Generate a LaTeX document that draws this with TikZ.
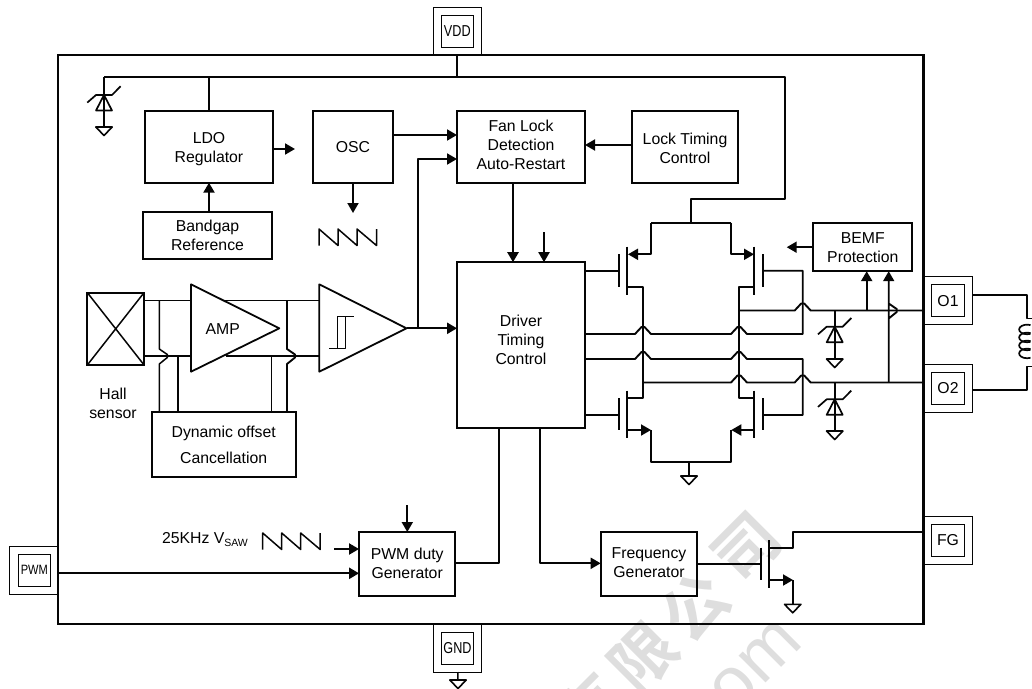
\documentclass[tikz,border=0pt]{standalone}
\usepackage{fontspec}
\setmainfont{Liberation Sans}
\newfontfamily\cjk{Noto Sans CJK SC}[BoldFont={* Bold}]
\usetikzlibrary{arrows.meta}
\definecolor{wmk}{RGB}{222,222,222}
\definecolor{ink}{RGB}{5,5,5}
\newcommand\hopup[2]{-- (#1-8,#2) -- (#1-1.5,#2-7) -- (#1+1.5,#2-7) -- (#1+8,#2)}
\newcommand\hopright[2]{-- (#1,#2-7) -- (#1+8,#2-1.5) -- (#1+8,#2+1.5) -- (#1,#2+8)}
\tikzset{
  blk/.style={draw=ink,line width=2.2pt,inner sep=0pt,outer sep=0pt,align=center,font=\fontsize{15.8}{19}\selectfont},
  padout/.style={draw=ink,line width=.7pt,inner sep=0pt,outer sep=0pt,minimum width=48pt,minimum height=48pt},
  padin/.style={draw=ink,line width=.9pt,inner sep=0pt,outer sep=0pt,minimum width=32.5pt,minimum height=32pt,font=\fontsize{15.8}{16}\selectfont},
  lbl/.style={inner sep=0pt,outer sep=0pt,align=center,font=\fontsize{15.8}{19}\selectfont},
  wire/.style={draw=ink,line width=1.9pt,line join=round},
  fine/.style={draw=ink,line width=1.5pt,line join=round},
  heavy/.style={draw=ink,line width=2.3pt,line join=round},
  tip/.style={-{Triangle[length=10pt,width=11pt]}},
  wm/.style={text=wmk,inner sep=0pt,outer sep=0pt,rotate=45,font=\cjk\bfseries\fontsize{64}{64}\selectfont},
  pics/gnd/.style={code={\draw[fine,line width=1.6pt] (-8.2,0) -- (8.2,0) -- (0,8.5) -- cycle;}},
  pics/zener/.style={code={
    \draw[fine,line width=1.7pt] (-16.7,7.6) -- (-8,0) -- (8,0) -- (16.6,-8.7);
    \draw[fine,line width=1.7pt] (0,0) -- (-8,15.5) -- (8,15.5) -- cycle;}},
  pics/saw/.style={code={
    \draw[fine,line width=1.5pt] (0,16.5) -- (0,0) -- (19,16.5) -- (19,0) -- (38,16.5) -- (38,0) -- (57.5,16.5) -- (57.5,0);}},
}
\begin{document}
\begin{tikzpicture}[x=1pt,y=-1pt]
\useasboundingbox (0,0) rectangle (1032,688);
% watermark
\node[wm] (wm4) at (747,548) {司};
\node[wm] (wm3) at (695,607) {公};
\node[wm] (wm2) at (644,658) {限};
\node[wm] (wm1) at (590,708) {有};
\node[wm,font=\fontsize{72}{72}\selectfont] (wm5) at (743,679) {com};

% main frame
\node[draw=ink,line width=2.2pt,inner sep=0pt,outer sep=0pt,minimum width=865.5pt,minimum height=568.5pt] (chip) at (490.75,339.5) {};

% pads
\node[padout] (vddo) at (457,31) {}; \node[padin] (vdd) at (457.3,31) {\scalebox{.8}[1]{VDD}};
\node[padout] (gndo) at (457.7,648) {}; \node[padin] (gnd) at (457.5,648) {\scalebox{.8}[1]{GND}};
\node[padout] (pwmo) at (33.7,570) {}; \node[padin,font=\fontsize{13.5}{14}\selectfont] (pwm) at (34.3,570.3) {\scalebox{.82}[1]{PWM}};
\node[padout] (o1o) at (948,300.5) {}; \node[padin] (o1) at (948,300.7) {O1};
\node[padout] (o2o) at (948,388.3) {}; \node[padin] (o2) at (948,388.3) {O2};
\node[padout] (fgo) at (948,540) {}; \node[padin] (fg) at (948,540.2) {FG};

% blocks
\node[blk,minimum width=127.5pt,minimum height=72pt,label={[lbl,yshift=-2.5pt]center:LDO\\Regulator}] (ldo) at (209,146.7) {};
\node[blk,minimum width=80pt,minimum height=72pt] (osc) at (353,146.7) {OSC};
\node[blk,minimum width=128pt,minimum height=72pt,label={[lbl,yshift=2pt]center:Fan Lock\\Detection\\Auto-Restart}] (fan) at (521,146.7) {};
\node[blk,minimum width=106pt,minimum height=72pt,label={[lbl,yshift=-2pt]center:Lock Timing\\Control}] (lock) at (685,146.7) {};
\node[blk,minimum width=129pt,minimum height=47pt] (band) at (207.5,235.7) {Bandgap\\Reference};
\node[blk,minimum width=128pt,minimum height=166pt,label={[lbl,yshift=5.5pt]center:Driver\\Timing\\Control}] (drv) at (521,345.2) {};
\node[blk,minimum width=99pt,minimum height=48pt] (bemf) at (862.8,247.2) {BEMF\\Protection};
\node[blk,minimum width=144pt,minimum height=64.5pt,font=\fontsize{15.8}{26}\selectfont] (doc) at (223.7,444.5) {Dynamic offset\\Cancellation};
\node[blk,minimum width=96.3pt,minimum height=64pt,label={[lbl,yshift=1pt]center:PWM duty\\Generator}] (pdg) at (407.2,564) {};
\node[blk,minimum width=96.6pt,minimum height=64.3pt,label={[lbl,yshift=1pt]center:Frequency\\Generator}] (frq) at (649,563.8) {};

% Hall sensor
\node[draw=ink,line width=1.9pt,inner sep=0pt,outer sep=0pt,minimum width=56.7pt,minimum height=72.3pt] (hall) at (115.7,328.8) {};
\draw[fine] (hall.north west) -- (hall.south east) (hall.north east) -- (hall.south west);
\node[lbl] (halltxt) at (113,403.5) {Hall\\sensor};

% amplifier and comparator
\coordinate (ampa) at (191,284.3); \coordinate (ampb) at (191,371.7); \coordinate (ampc) at (279.3,328.3);
\draw[fine,line width=1.8pt] (ampa) -- (ampc) -- (ampb) -- cycle;
\node[lbl] (amptxt) at (222.7,329) {AMP};
\coordinate (cmpa) at (319.3,284.3); \coordinate (cmpb) at (319.3,371.7); \coordinate (cmpc) at (406.5,328.3);
\draw[fine,line width=1.8pt] (cmpa) -- (cmpc) -- (cmpb) -- cycle;
\draw[fine] (329,348.3) -- (345.7,348.3) -- (345.7,316.7) -- (354,316.7) (337.3,348.3) -- (337.3,316.7) -- (345.7,316.7);

% analog wires
\draw[fine] (144,300.7) -- (191,300.7) (224,300.7) -- (319.3,300.7);
\draw[wire] (144,356) -- (191,356);
\draw[fine] (226,356) -- (319.3,356);
\draw[fine] (159.3,300.7) \hopright{159.3}{356} -- (159.3,0 |- doc.north);
\draw[fine] (178,356) -- (178,0 |- doc.north);
\draw[fine] (271.3,356) -- (271.3,0 |- doc.north);
\draw[wire] (287,300.7) \hopright{287}{356} -- (287,0 |- doc.north);

% logic wires
\coordinate (y135) at (0,135); \coordinate (y159) at (0,159); \coordinate (y145) at (0,145);
\coordinate (y328) at (0,328.3);
\draw[fine] (ldo.north) -- (ldo.north |- 0,77);
\draw[fine] (vddo.south) -- (457,77);
\draw[wire] (104,77) -- (785,77) -- (785,199) -- (691,199) -- (691,222.7);
\draw[wire,tip] (ldo.east |- 0,149) -- (295,149);
\draw[heavy,tip] (band.north -| ldo.north) -- (ldo.south);
\draw[wire,tip] (osc.south) -- (353,213);
\draw[wire,tip] (osc.east |- y135) -- (fan.west |- y135);
\draw[wire,tip] (417.7,328.3) -- (417.7,159) -- (fan.west |- y159);
\draw[heavy,tip] (cmpc) -- (drv.west |- y328);
\draw[wire,tip] (lock.west |- y145) -- (fan.east |- y145);
\draw[heavy,tip] (513,182.7) -- (513,262.2);
\coordinate (drvin) at (544,232);
\draw[wire,tip] (drvin) -- (drvin |- drv.north);
\draw[wire,tip] (bemf.west) -- (786.7,247.2);
\pic at (319,229) {saw};
\pic at (262.7,533) {saw};

% PWM section
\draw[heavy,tip] (58,573.3) -- (pdg.west |- 0,573.3);
\draw[wire,tip] (334,549) -- (pdg.west |- 0,549);
\coordinate (pdgin) at (407.3,505);
\draw[wire,tip] (pdgin) -- (pdgin |- pdg.north);
\draw[wire] (pdg.east |- 0,563.3) -- (499,563.3) -- (499,428.2);
\draw[wire,tip] (540,428.2) -- (540,563.3) -- (frq.west |- 0,563.3);
\node[lbl,anchor=west] (saw) at (162,539.3) {25KHz V\raisebox{-3pt}{\fontsize{10.5}{12}\selectfont SAW}};

% upper-left MOSFET
\draw[wire] (585,270.7) -- (619,270.7);
\draw[wire] (619,254) -- (619,287) (627.3,246.7) -- (627.3,295);
\draw[wire,tip] (651,222.7) -- (651,254.3) -- (628,254.3);
\draw[wire] (651,222.7) -- (731,222.7);
% upper-right MOSFET
\draw[wire,tip] (731,222.7) -- (731,254.3) -- (754,254.3);
\draw[wire] (754.3,246.7) -- (754.3,295) (763.3,254) -- (763.3,287);
% lower-left MOSFET
\draw[wire] (585,415) -- (619,415);
\draw[wire] (619,398) -- (619,430) (627.3,390.7) -- (627.3,438);
\draw[wire,tip] (627.3,430) -- (651,430);
\draw[wire] (651,430) -- (651,462.3) -- (731,462.3) -- (731,430);
\draw[wire,tip] (754.3,430) -- (731.3,430);
% lower-right MOSFET
\draw[wire] (754.3,390.7) -- (754.3,438) (763.3,398) -- (763.3,430);
% drains
\draw[wire] (627.3,286.7) -- (643,286.7) -- (643,398.3) -- (627.3,398.3);
\draw[wire] (754.3,286.7) -- (739,286.7) -- (739,398.3) -- (754.3,398.3);
% gate returns
\draw[wire] (763.3,270.7) -- (802.7,270.7) -- (802.7,334) -- (739+8,334) -- (739+1.5,327) -- (739-1.5,327) -- (739-8,334) -- (643+8,334) -- (643+1.5,327) -- (643-1.5,327) -- (643-8,334) -- (585,334);
\draw[wire] (763.3,415) -- (802.7,415) -- (802.7,359) -- (739+8,359) -- (739+1.5,352) -- (739-1.5,352) -- (739-8,359) -- (643+8,359) -- (643+1.5,352) -- (643-1.5,352) -- (643-8,359) -- (585,359);
\draw[wire] (739,310.5) \hopup{802.7}{310.5} -- (o1o.west |- 0,310.5);
\draw[wire] (643,382.5) \hopup{739}{382.5} \hopup{802.7}{382.5} -- (o2o.west |- 0,382.5);
% ground of the bridge
\draw[wire] (689,462.3) -- (689,476);
\pic at (689,476) {gnd};

% BEMF inputs
\draw[heavy,tip] (866.7,310.5) -- (bemf.south -| 866.7,0);
\draw[wire,tip] (888.7,382.5) \hopright{888.7}{310.5} -- (888.7,271.2);

% zeners
\draw[wire] (834.7,310.5) -- (834.7,359);
\pic at (834.7,326.7) {zener};
\pic at (834.7,359) {gnd};
\draw[wire] (834.7,382.5) -- (834.7,431);
\pic at (834.7,399.3) {zener};
\pic at (834.7,431) {gnd};
\draw[wire] (104,77) -- (104,127);
\pic at (104,95) {zener};
\pic at (104,127) {gnd};

% frequency output transistor
\draw[fine] (frq.east |- 0,564) -- (761,564);
\draw[wire] (761,547.7) -- (761,580) (769,540) -- (769,588.3);
\draw[wire] (769,548.3) -- (792.7,548.3) -- (792.7,532.3) -- (fgo.west |- 0,532.3);
\draw[wire,tip] (769,580) -- (793,580);
\draw[wire] (792.7,580) -- (792.7,604.3);
\pic at (792.7,604.3) {gnd};

% GND pad ground
\draw[fine] (gndo.south) -- (458,680);
\pic at (458,680) {gnd};

% coil
\coordinate (c1) at (1027,294.7);
\draw[wire] (o1o.east |- c1) -- (c1) -- (1027,318.5) -- (1032,318.5);
\draw[wire] (o2o.east |- 0,390.3) -- (1027,390.3) -- (1027,366.5) -- (1032,366.5);
\foreach \cy in {329.5,337.5,345.5,353.5}{
  \draw[draw=ink,line width=1.7pt] (1030.5,\cy-4.4) arc[start angle=-65,end angle=-295,x radius=8,y radius=4.8];
}
\end{tikzpicture}
\end{document}
